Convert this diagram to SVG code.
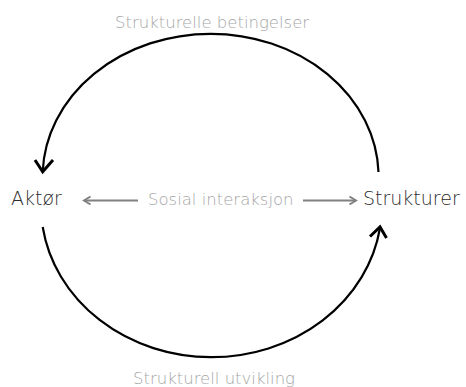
<svg xmlns="http://www.w3.org/2000/svg" width="466" height="387" viewBox="0 0 466 387">
<style>
.main{font-family:"DejaVu Sans","Liberation Sans",sans-serif;font-weight:200;fill:#2a2a2a;font-size:19px}
.lbl{font-family:"DejaVu Sans","Liberation Sans",sans-serif;font-weight:200;fill:#a6a6a6;font-size:16.5px}
.arc{fill:none;stroke:#000;stroke-width:2.2}
.head{fill:none;stroke:#000;stroke-width:3;stroke-linecap:butt;stroke-linejoin:miter}
.gline{fill:none;stroke:#808080;stroke-width:2}
</style>
<rect width="466" height="387" fill="#fff"/>
<g id="connectors">
<path class="arc" d="M378.5 172 A168 143 0 0 0 42.7 171.7"/>
<polyline class="head" points="35,160 42.7,171.7 53,160"/>
<path class="arc" d="M42.7 227 A170.5 152 0 0 0 380 228"/>
<polyline class="head" points="370,236.5 380,227 386.5,238"/>
<line class="gline" x1="84" y1="200.5" x2="138" y2="200.5"/>
<polyline class="gline" points="90.5,196.5 84,200.5 90.5,204.5"/>
<line class="gline" x1="303" y1="200.5" x2="356" y2="200.5"/>
<polyline class="gline" points="349.5,196.5 356,200.5 349.5,204.5"/>
</g>
<g id="aktor"><text class="main" x="11" y="205">Aktør</text></g>
<g id="strukturer"><text class="main" x="363" y="205">Strukturer</text></g>
<g id="sosial"><text class="lbl" x="148" y="204.5">Sosial interaksjon</text></g>
<g id="betingelser"><text class="lbl" x="115" y="28">Strukturelle betingelser</text></g>
<g id="utvikling"><text class="lbl" x="133" y="384">Strukturell utvikling</text></g>
</svg>
